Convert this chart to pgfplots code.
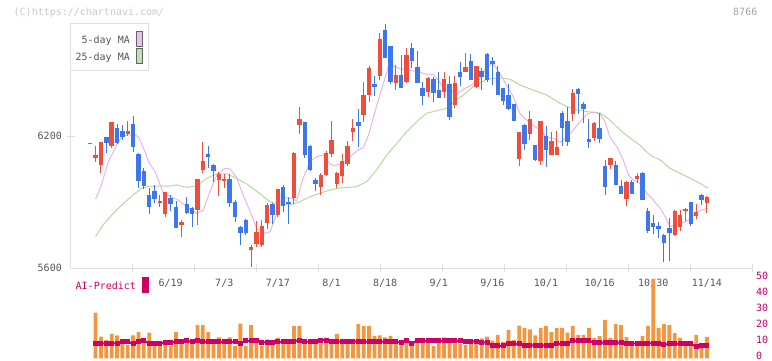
\documentclass[border=0pt]{standalone}
\usepackage{fontspec}
\setmainfont{DejaVu Sans Mono}
\usepackage{pgfplots}
\pgfplotsset{compat=1.18}
\usepackage{pgfplotstable}

\definecolor{cred}{RGB}{240,78,60}
\definecolor{cblue}{RGB}{62,118,235}
\definecolor{cpink}{RGB}{232,180,235}
\definecolor{cgreen}{RGB}{178,218,160}
\definecolor{corange}{RGB}{242,150,64}
\definecolor{cmag}{RGB}{204,0,102}
\definecolor{cgrid}{RGB}{222,222,222}
\definecolor{ctext}{RGB}{85,85,85}
\newcommand{\sz}{\fontsize{10bp}{12bp}\selectfont}

% up candles (red): x open high low close
\pgfplotstableread{
x o h l c
-1 6166 6170 6166 6170
0 6103 6156 6085 6115
1 6071 6174 6035 6174
3 6157 6265 6148 6265
6 6210 6270 6203 6224
12 5898 5933 5880 5907
13 5848 5947 5835 5947
16 5798 5821 5744 5810
19 5867 6006 5798 6006
20 6048 6174 6035 6088
23 6003 6036 5928 6027
24 5998 6027 5966 6007
29 5684 5706 5607 5697
30 5710 5815 5695 5765
31 5707 5819 5695 5792
32 5807 5898 5780 5887
34 5843 5960 5834 5960
37 5921 6130 5890 6125
38 6253 6333 6212 6278
42 5971 6033 5933 6024
43 6024 6133 6019 6124
44 6121 6269 6107 6183
45 5984 6040 5963 6033
46 6020 6120 5986 6088
47 6075 6178 6066 6156
48 6221 6278 6180 6237
50 6298 6445 6266 6387
51 6387 6519 6354 6512
53 6474 6669 6456 6642
56 6443 6524 6410 6478
58 6448 6601 6443 6569
62 6401 6469 6378 6465
65 6403 6492 6375 6460
67 6343 6474 6330 6442
69 6492 6577 6492 6515
71 6424 6519 6418 6519
79 6097 6219 6065 6219
81 6210 6315 6183 6279
83 6088 6270 6069 6270
85 6115 6219 6115 6179
86 6115 6224 6115 6151
89 6301 6415 6270 6397
93 6192 6265 6179 6260
96 6071 6101 6051 6101
99 5915 5997 5883 5992
101 6006 6033 5988 6019
108 5751 5865 5747 5860
109 5788 5865 5770 5842
110 5860 5874 5815 5870
112 5838 5892 5824 5856
114 5897 5929 5851 5924
}\upc

% down candles (blue): x open high low close
\pgfplotstableread{
x o h l c
2 6197 6197 6123 6171
4 6238 6256 6167 6171
5 6224 6250 6185 6195
7 6256 6294 6130 6153
8 6120 6126 5967 5998
9 6042 6056 5959 5976
10 5933 5967 5848 5880
11 5951 5979 5898 5917
14 5920 5933 5862 5894
15 5880 5907 5785 5785
17 5892 5924 5848 5853
18 5876 5880 5789 5848
21 6120 6156 6056 6107
22 6069 6072 5994 6042
25 6006 6027 5880 5898
26 5901 5910 5812 5834
27 5787 5794 5706 5762
28 5819 5824 5751 5762
33 5892 5898 5800 5840
35 5969 5980 5857 5884
36 5901 5925 5803 5892
39 6265 6265 6103 6115
40 6156 6160 6042 6047
41 6003 6012 5951 5984
49 6265 6324 6151 6248
52 6437 6474 6384 6425
54 6683 6710 6557 6557
55 6610 6610 6437 6448
57 6478 6569 6421 6421
59 6601 6624 6512 6543
60 6515 6587 6443 6443
61 6419 6448 6343 6384
63 6460 6469 6357 6398
64 6410 6492 6374 6374
66 6437 6474 6275 6289
68 6492 6537 6430 6471
70 6542 6574 6454 6454
72 6497 6510 6410 6469
73 6574 6579 6447 6456
74 6542 6560 6433 6529
75 6492 6519 6388 6388
76 6419 6419 6342 6360
77 6388 6438 6319 6324
78 6347 6347 6269 6269
80 6251 6256 6138 6165
82 6160 6160 6088 6092
84 6201 6247 6060 6138
87 6306 6315 6156 6238
88 6270 6333 6156 6174
90 6415 6419 6301 6392
91 6347 6356 6260 6324
92 6188 6278 6147 6174
94 6239 6307 6171 6189
95 6065 6092 5933 5970
97 6069 6088 5979 5979
98 5974 6001 5938 5938
100 5992 6001 5938 5938
102 6033 6038 5910 5910
103 5860 5874 5760 5770
104 5806 5842 5756 5788
105 5792 5810 5738 5779
106 5751 5756 5629 5715
107 5783 5829 5633 5760
111 5901 5901 5792 5801
113 5933 5938 5888 5910
}\downc

% 5-day moving average
\pgfplotstableread{
x y
0 5915
1 5971
2 6056
2.4 6085
4.2 6173
5 6201
6 6206
7.3 6206
8 6197
9.2 6130
10 6079
11.1 6039
12.6 5942
14.2 5924
15.4 5910
17 5880
18.9 5850
20.1 5865
21.3 5947
22.6 6024
24.1 6055
25.1 6051
26.3 6013
27.5 5933
29.1 5842
30 5782
31.6 5759
32.5 5766
33.5 5827
34.4 5903
35.3 5921
36.6 5918
37.5 5906
38.7 6009
40 6085
41.2 6107
42.5 6115
43.7 6074
44.6 6066
45.6 6074
46.5 6085
47.8 6115
49 6138
49.9 6148
50.9 6206
52.1 6312
53.4 6418
54.6 6516
55.8 6516
57.1 6505
58.9 6498
60.2 6494
61.4 6483
63 6481
63.9 6456
64.8 6420
65.5 6418
66.7 6403
67.6 6395
68.6 6414
69.8 6429
71.1 6448
72 6471
72.9 6516
74.2 6529
75.4 6486
76.6 6433
77.9 6380
79.1 6305
80.4 6274
81.9 6244
82.9 6229
84.1 6195
85.4 6191
86.6 6173
87.9 6195
89.1 6229
90.3 6265
91.6 6301
92.8 6310
94.1 6301
95 6266
95.9 6198
97.2 6153
98.4 6092
99.4 6024
100.3 6001
101.5 5986
102.8 5941
104 5910
105.3 5873
106.2 5835
107.1 5789
108.1 5797
109.3 5805
110.6 5820
111.8 5850
113 5865
114.2 5873
}\maf

% 25-day moving average
\pgfplotstableread{
x y
0 5744
1.4 5797
3.3 5850
5.2 5895
7 5933
8.6 5964
10.1 5974
12 5974
13.9 5974
15.1 5979
17 5968
18.9 5974
20.7 6009
22.6 6029
24.5 6029
26.3 6009
28.2 5983
30 5951
32.5 5903
34.4 5891
36.3 5888
38.1 5903
40 5925
41.8 5941
43.7 5956
45.6 5965
48.7 5971
50.6 5994
52.4 6047
54.3 6115
56.2 6168
58 6221
59.9 6266
61.7 6305
63 6312
64.2 6320
65.5 6327
67.3 6365
68.6 6388
70.4 6425
72.9 6459
75.4 6466
77.3 6459
79.1 6433
81.6 6410
84.1 6388
86.6 6350
89.1 6323
91.6 6312
94.1 6306
95.9 6274
97.8 6229
99.7 6191
101.5 6160
103.4 6115
105.3 6092
107.1 6055
109 6032
110.9 6009
112.7 5986
114.2 5964
}\mab

% volume and AI-Predict
\pgfplotstableread{
x v a
0 28.5 9.4
1 13.5 9.4
2 11.4 9.4
3 15.2 9.4
4 14.4 9.4
5 11.4 10.4
6 8.3 10.4
7 14.4 9.0
8 16.4 10.2
9 11.2 10.9
10 16.0 9.4
11 9.4 9.4
12 9.4 9.4
13 11.4 10.0
14 7.7 10.0
15 16.4 10.2
16 9.8 10.2
17 9.8 10.9
18 9.4 10.2
19 20.8 11.4
20 20.8 10.2
21 16.4 10.2
22 11.0 10.2
23 13.1 10.2
24 11.4 10.2
25 13.1 10.2
26 7.7 10.2
27 21.6 9.4
28 7.7 10.9
29 20.8 10.9
30 11.4 10.9
31 7.7 10.0
32 11.9 10.0
33 9.8 10.0
34 12.7 10.2
35 9.8 10.2
36 10.6 10.2
37 20.2 10.6
38 20.2 11.4
39 11.9 10.6
40 9.4 10.2
41 9.8 10.2
42 9.4 11.4
43 11.4 11.4
44 10.6 10.4
45 15.2 10.4
46 11.4 10.4
47 9.4 10.6
48 9.4 10.6
49 21.4 10.4
50 20.2 10.4
51 20.2 10.4
52 14.0 10.4
53 14.4 10.4
54 13.1 10.4
55 14.0 10.4
56 11.9 10.4
57 11.4 9.8
58 11.4 10.9
59 8.3 9.0
60 11.9 11.4
61 11.0 10.9
62 11.4 10.9
63 7.7 10.9
64 9.8 10.9
65 13.1 10.9
66 11.0 10.9
67 9.4 10.9
68 9.0 10.9
69 8.3 10.6
70 10.2 10.6
71 11.4 10.6
72 12.5 10.0
73 13.5 10.0
74 11.0 7.7
75 14.6 7.7
76 10.2 7.7
77 17.7 9.0
78 11.4 9.0
79 20.4 9.0
80 19.0 8.1
81 18.0 8.1
82 14.4 8.1
83 19.0 8.1
84 20.2 8.1
85 16.4 8.1
86 19.0 9.0
87 19.0 9.0
88 16.0 9.0
89 20.2 10.9
90 14.6 10.9
91 14.6 10.9
92 19.0 10.9
93 12.7 9.8
94 14.0 9.8
95 24.0 9.8
96 12.7 9.8
97 21.4 9.8
98 20.8 9.8
99 13.3 9.4
100 8.3 9.4
101 10.8 9.4
102 14.0 9.4
103 20.2 9.4
104 49.6 9.4
105 19.0 9.4
106 21.4 8.5
107 20.8 9.0
108 15.8 9.0
109 12.7 9.0
110 9.6 9.0
111 9.6 9.0
112 14.6 7.3
113 9.6 8.1
114 13.3 8.1
}\vol

\begin{document}
\begin{tikzpicture}
\path[use as bounding box] (0bp,0bp) rectangle (772bp,361bp);

% ---------- main price axis ----------
\begin{axis}[
  at={(70.7bp,92.7bp)}, anchor=south west, scale only axis,
  width=681.6bp, height=244.3bp,
  xmin=-4.64, xmax=122.47, ymin=5600, ymax=6710.3,
  clip=false,
  axis x line=bottom, axis y line=left,
  axis line style={draw=cgrid, line width=1.5bp, -},
  /pgf/number format/assume math mode=true,
  xtick={14,24,...,114},
  xticklabels={6/19,7/3,7/17,8/1,8/18,9/1,9/16,10/1,10/16,10/30,11/14},
  minor xtick={6.915,18.47,30.025,41.58,53.135,64.69,76.245,87.8,99.355,110.91,122.465},
  ytick={5600,6200}, yticklabels={5600,6200},
  minor ytick={6200},
  major tick length=0pt, minor tick length=8bp, tick align=center,
  minor tick style={draw=cgrid, line width=1.5bp},
  xticklabel style={font=\sz, text=ctext, anchor=base, inner sep=0pt, yshift=-18.3bp},
  yticklabel style={font=\sz, text=ctext, anchor=base east, inner sep=0pt, xshift=-8.7bp, yshift=-3.6bp},
  candle/.style={draw=none, mark=none, error bars/.cd, y dir=both, y explicit, error mark=none},
]
\addplot[cgreen, line width=1bp] table[x=x,y=y] {\mab};
\addplot[cpink, line width=1bp] table[x=x,y=y] {\maf};
% wicks
\addplot[candle, error bar style={draw=cred, line width=1bp}]
  table[x=x, y expr={(\thisrow{h}+\thisrow{l})/2}, y error expr={(\thisrow{h}-\thisrow{l})/2}] {\upc};
\addplot[candle, error bar style={draw=cblue, line width=1bp}]
  table[x=x, y expr={(\thisrow{h}+\thisrow{l})/2}, y error expr={(\thisrow{h}-\thisrow{l})/2}] {\downc};
% bodies
\addplot[candle, error bar style={draw=cred, line width=4.4bp}]
  table[x=x, y expr={(\thisrow{o}+\thisrow{c})/2}, y error expr={(\thisrow{c}-\thisrow{o})/2}] {\upc};
\addplot[candle, error bar style={draw=cblue, line width=4.4bp}]
  table[x=x, y expr={(\thisrow{o}+\thisrow{c})/2}, y error expr={(\thisrow{o}-\thisrow{c})/2}] {\downc};
\end{axis}

% ---------- volume axis ----------
\begin{axis}[
  at={(70.7bp,2.7bp)}, anchor=south west, scale only axis,
  width=681.6bp, height=80bp,
  xmin=-4.64, xmax=122.47, ymin=0, ymax=50,
  hide x axis, axis y line*=right,
  y axis line style={draw=none},
  ytick={0,10,20,30,40,50}, yticklabels={0,10,20,30,40,50},
  major tick length=0pt,
  yticklabel style={font=\sz, text=cmag, anchor=base west, inner sep=0pt, xshift=3.7bp, yshift=-1.5bp},
  clip=false,
]
\addplot[ybar, bar width=3.8bp, fill=corange, draw=none] table[x=x,y=v] {\vol};
\addplot[cmag, line width=2bp, mark=square*, mark size=1.5bp, mark options={fill=cmag, draw=cmag}] table[x=x,y=a] {\vol};
\end{axis}

% ---------- texts and legend ----------
\node[anchor=base west, inner sep=0pt, font=\sz, text={rgb,255:red,200;green,200;blue,200}] at (13.5bp,345.1bp) {(C)https://chartnavi.com/};
\node[anchor=base east, inner sep=0pt, font=\sz, text={rgb,255:red,165;green,165;blue,165}] at (757.5bp,345.1bp) {8766};

\draw[cgrid, line width=1bp, fill=white] (70.3bp,337bp) rectangle (148.3bp,290bp);
\node[anchor=base east, inner sep=0pt, font=\sz, text=ctext] at (130bp,317.7bp) {5-day MA};
\node[anchor=base east, inner sep=0pt, font=\sz, text=ctext] at (130bp,300.1bp) {25-day MA};
\draw[draw={rgb,255:red,100;green,100;blue,100}, line width=0.8bp, fill={rgb,255:red,238;green,190;blue,238}] (136.3bp,329.7bp) rectangle (142.7bp,314.3bp);
\draw[draw={rgb,255:red,100;green,100;blue,100}, line width=0.8bp, fill={rgb,255:red,190;green,225;blue,175}] (136.3bp,312.3bp) rectangle (142.7bp,297.7bp);

\node[anchor=base west, inner sep=0pt, font=\sz, text=cmag] at (75.5bp,71.4bp) {AI-Predict};
\fill[cmag] (142bp,84bp) rectangle (149bp,68bp);
\end{tikzpicture}
\end{document}
